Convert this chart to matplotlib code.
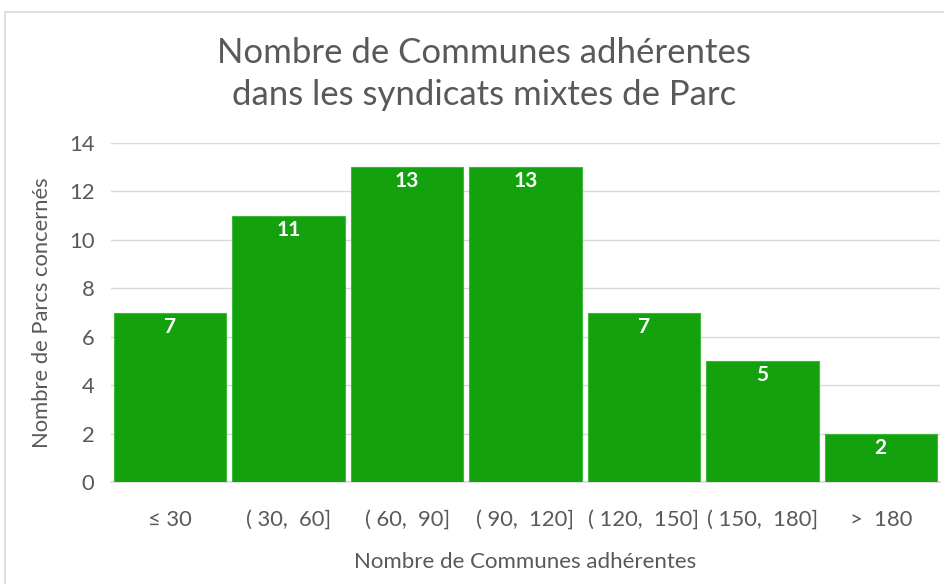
import matplotlib
matplotlib.use("Agg")
from matplotlib import pyplot as plt
from matplotlib.patches import Rectangle

categories = ["≤ 30", "( 30,  60]", "( 60,  90]", "( 90,  120]", "( 120,  150]", "( 150,  180]", ">  180"]
counts = [7, 11, 13, 13, 7, 5, 2]
y_ticks = [0, 2, 4, 6, 8, 10, 12, 14]

plt.rcParams['font.family'] = ['Lato', 'DejaVu Sans']

fig = plt.figure(figsize=(9.44, 5.84), dpi=100)
# chart border (cut off at right and bottom like the source)
fig.patches.append(Rectangle((5/944, -0.1), 1.2, 1 - 12/584 + 0.1, transform=fig.transFigure,
                             fill=False, edgecolor="#D9D9D9", linewidth=1.2))

ax = fig.add_axes([111/944, 1 - 482/584, (940-111)/944, (482-143)/584])

x = list(range(len(categories)))
ax.bar(x, counts, width=0.95, color="#13A10E", edgecolor="#3DB83A", linewidth=0.8, zorder=3)
for xi, v in zip(x, counts):
    ax.text(xi, v - 0.58, str(v), ha="center", va="center", color="white",
            fontsize=15, fontweight="bold", zorder=4)

ax.set_xlim(-0.5, len(categories) - 0.5)
ax.set_ylim(0, 14)
ax.set_yticks(y_ticks)
ax.set_xticks(x)
ax.set_xticklabels(categories)
ax.grid(axis="y", color="#D9D9D9", linewidth=1, zorder=0)
for s in ["top", "right", "left"]:
    ax.spines[s].set_visible(False)
ax.spines["bottom"].set_color("#D9D9D9")
ax.spines["bottom"].set_linewidth(1.2)
ax.tick_params(axis="both", length=0, labelsize=15.8, colors="#595959")
ax.tick_params(axis="x", pad=20)
ax.tick_params(axis="y", pad=12)

ax.set_xlabel("Nombre de Communes adhérentes", fontsize=16, color="#595959", labelpad=16)
ax.set_ylabel("Nombre de Parcs concernés", fontsize=15.8, color="#595959", labelpad=12)

fig.text(484/944, 1 - 74/584, "Nombre de Communes adhérentes\ndans les syndicats mixtes de Parc",
         ha="center", va="center", fontsize=25, color="#595959", linespacing=1.38)

fig.savefig("out.png", dpi=100)
